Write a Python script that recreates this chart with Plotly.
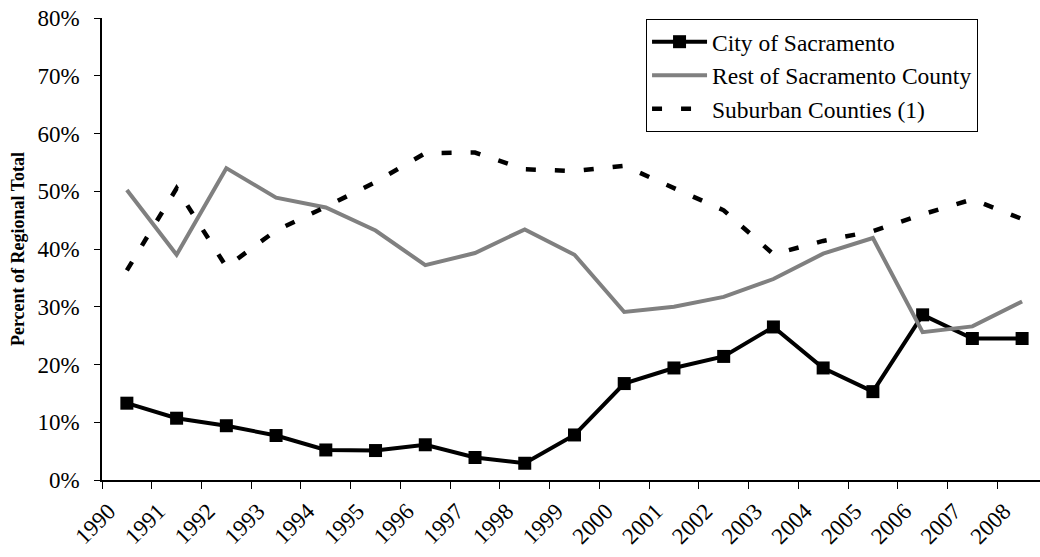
import plotly.graph_objects as go

years = [str(y) for y in range(1990, 2009)]
city = [13.3, 10.7, 9.4, 7.7, 5.2, 5.1, 6.1, 3.9, 2.9, 7.8, 16.7, 19.4, 21.4, 26.5, 19.4, 15.3, 28.6, 24.5, 24.5]
rest = [50.2, 39.0, 54.0, 48.9, 47.2, 43.2, 37.2, 39.3, 43.4, 39.0, 29.1, 30.0, 31.7, 34.8, 39.2, 41.9, 25.6, 26.6, 30.9]
suburban = [36.3, 50.5, 36.9, 43.2, 47.3, 51.6, 56.6, 56.7, 53.8, 53.5, 54.4, 50.5, 46.7, 39.1, 41.4, 43.1, 46.0, 48.6, 45.2]
y_ticks = [0, 10, 20, 30, 40, 50, 60, 70, 80]

FONT = "Liberation Serif"

fig = go.Figure()
fig.add_trace(go.Scatter(
    x=years, y=city, name="City of Sacramento", mode="lines+markers",
    line=dict(color="black", width=4),
    marker=dict(symbol="square", size=13, color="black"),
))
fig.add_trace(go.Scatter(
    x=years, y=rest, name="Rest of Sacramento County", mode="lines",
    line=dict(color="#808080", width=4),
))
fig.add_trace(go.Scatter(
    x=years, y=suburban, name="Suburban Counties (1)", mode="lines",
    line=dict(color="black", width=4.5, dash="10px,19px"),
))

fig.update_layout(
    width=1040, height=557,
    margin=dict(l=102, r=0, t=18, b=77),
    paper_bgcolor="white", plot_bgcolor="white",
    font=dict(family=FONT, color="black", size=23),
    showlegend=True,
    legend=dict(
        x=0.58, y=0.998, xanchor="left", yanchor="top",
        bordercolor="black", borderwidth=1, bgcolor="white",
        font=dict(family=FONT, size=23.5, color="black"),
        tracegroupgap=0, itemwidth=55,
    ),
    xaxis=dict(
        type="category", range=[-0.5, 18.36], automargin=False,
        showline=True, linecolor="black", linewidth=1.5,
        ticks="outside", tickson="boundaries", ticklen=7, tickcolor="black",
        tickangle=-45, tickfont=dict(family=FONT, size=23),
        showgrid=False, zeroline=False, ticklabelstandoff=7, ticklabelshift=-18,
        ticklabeloverflow="allow",
    ),
    yaxis=dict(
        range=[0, 80], tickvals=y_ticks, ticktext=[f"{v}%" for v in y_ticks],
        automargin=False,
        showline=True, linecolor="black", linewidth=1.5,
        ticks="outside", ticklen=6, tickcolor="black",
        tickfont=dict(family=FONT, size=23),
        showgrid=False, zeroline=False, ticklabelstandoff=10,
        ticklabeloverflow="allow",
        title=dict(text="<b>Percent of Regional Total</b>", font=dict(family=FONT, size=18), standoff=8),
    ),
)

# remove the default 8px page margin so the figure fills the window exactly
fig.write_html(
    "out.html",
    config={"displayModeBar": False},
    post_script="document.body.style.margin='0';",
)
